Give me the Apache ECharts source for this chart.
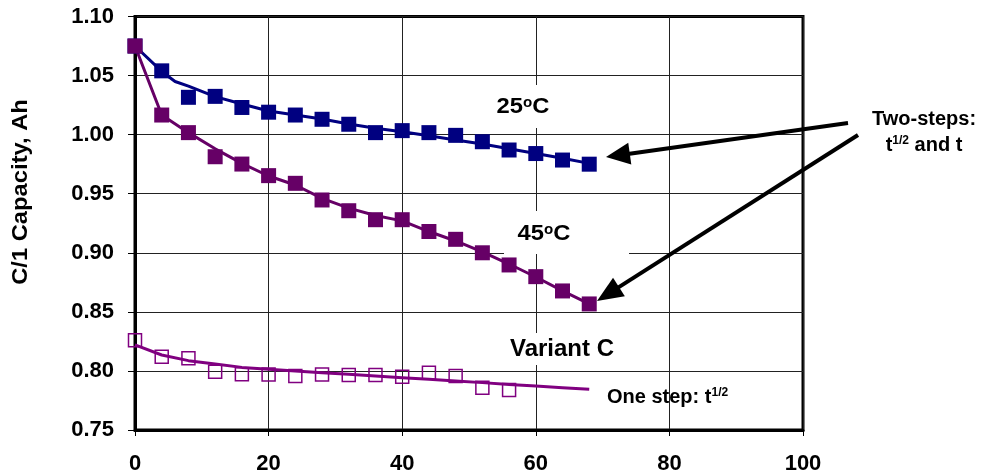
<!DOCTYPE html>
<html>
<head>
<meta charset="utf-8">
<script src="https://cdn.jsdelivr.net/npm/echarts@6/dist/echarts.min.js"></script>
<style>
html,body{margin:0;padding:0;background:#fff;}
#chart{width:982px;height:476px;}
</style>
</head>
<body>
<div id="chart"></div>
<script>
// ---- data ----
const xTicks = [0, 20, 40, 60, 80, 100];
const yTicks = [0.75, 0.80, 0.85, 0.90, 0.95, 1.00, 1.05, 1.10];

const measX = [0, 4, 8, 12, 16, 20, 24, 28, 32, 36, 40, 44, 48, 52, 56, 60, 64, 68];
const meas25 = [1.075, 1.054, 1.0316, 1.0324, 1.023, 1.019, 1.0166, 1.013, 1.0088, 1.0017, 1.0034, 1.0017, 0.9994, 0.994, 0.987, 0.984, 0.9785, 0.975];
const meas45 = [1.075, 1.0166, 1.0017, 0.9813, 0.9751, 0.9653, 0.9588, 0.9447, 0.9356, 0.928, 0.928, 0.918, 0.9114, 0.900, 0.8897, 0.8798, 0.8677, 0.8567];

const measXC = [0, 4, 8, 12, 16, 20, 24, 28, 32, 36, 40, 44, 48, 52, 56];
const measC = [0.826, 0.812, 0.8107, 0.7994, 0.7971, 0.797, 0.7957, 0.797, 0.7966, 0.7966, 0.795, 0.7985, 0.7957, 0.7858, 0.7839];

const fitX25 = [0, 4, 6, 8, 12, 16, 20, 24, 28, 32, 36, 40, 44, 48, 52, 56, 60, 64, 68];
const fit25 = [1.075, 1.0535, 1.045, 1.041, 1.0322, 1.0259, 1.020, 1.0166, 1.0133, 1.009, 1.0054, 1.0025, 0.999, 0.9955, 0.992, 0.988, 0.984, 0.980, 0.9757];

const fitX45 = [0, 4, 8, 12, 16, 20, 24, 28, 32, 36, 40, 44, 48, 52, 56, 60, 64, 68];
const fit45 = [1.075, 1.0166, 1.0017, 0.988, 0.9757, 0.965, 0.9574, 0.946, 0.9378, 0.9316, 0.927, 0.918, 0.910, 0.9007, 0.8905, 0.8795, 0.8677, 0.8567];

const fitXC = [0, 4, 8, 12, 16, 20, 24, 28, 32, 36, 40, 44, 48, 52, 56, 60, 64, 68];
const fitC = [0.822, 0.8135, 0.8087, 0.8059, 0.803, 0.8014, 0.7999, 0.7985, 0.7971, 0.7957, 0.7943, 0.7929, 0.7915, 0.7901, 0.7886, 0.7872, 0.7858, 0.7844];

const yAxisTitle = 'C/1 Capacity, Ah';

// ---- chart ----
const FONT = '"Liberation Sans", Arial, sans-serif';
const pairs = (xs, ys) => xs.map((x, i) => [x, ys[i]]);
const chart = echarts.init(document.getElementById('chart'), null, {renderer: 'canvas'});

const NAVY = '#000080', PLUM = '#660066', PURPLE = '#800080';

function arrow(tail, tip, L, W) {
  const dx = tip[0] - tail[0], dy = tip[1] - tail[1];
  const len = Math.hypot(dx, dy), ux = dx / len, uy = dy / len;
  const bx = tip[0] - ux * L, by = tip[1] - uy * L;
  const px = -uy, py = ux;
  return [
    {type: 'polyline', z: 6, shape: {points: [tail, [bx + ux * 2, by + uy * 2]]}, style: {stroke: '#000', lineWidth: 4, fill: null}},
    {type: 'polygon', z: 6, shape: {points: [tip, [bx + px * W, by + py * W], [bx - px * W, by - py * W]]}, style: {fill: '#000'}}
  ];
}

const bold = (size) => ({fontFamily: FONT, fontWeight: 'bold', fontSize: size, fill: '#000'});

const graphics = [
  // white label boxes
  {type: 'rect', z: 1, shape: {x: 483, y: 85, width: 125, height: 43}, style: {fill: '#fff'}},
  {type: 'rect', z: 1, shape: {x: 504, y: 211, width: 125, height: 43}, style: {fill: '#fff'}},
  {type: 'rect', z: 1, shape: {x: 500, y: 333, width: 124, height: 32}, style: {fill: '#fff'}},
  // y axis title
  {type: 'text', z: 6, x: 21, y: 192, rotation: Math.PI / 2, scaleX: 1.08,
   style: Object.assign(bold(22), {text: yAxisTitle, align: 'center', verticalAlign: 'middle'})},
  // series labels
  {type: 'text', z: 6, x: 523, y: 107, scaleX: 1.08,
   style: {text: '{b|25}{s|o}{b|C}', align: 'center', verticalAlign: 'middle', fill: '#000',
     rich: {b: Object.assign(bold(22), {lineHeight: 22}), s: Object.assign(bold(14), {lineHeight: 14, verticalAlign: 'top'})}}},
  {type: 'text', z: 6, x: 544, y: 234, scaleX: 1.08,
   style: {text: '{b|45}{s|o}{b|C}', align: 'center', verticalAlign: 'middle', fill: '#000',
     rich: {b: Object.assign(bold(22), {lineHeight: 22}), s: Object.assign(bold(14), {lineHeight: 14, verticalAlign: 'top'})}}},
  {type: 'text', z: 6, x: 562, y: 349,
   style: Object.assign(bold(24), {text: 'Variant C', align: 'center', verticalAlign: 'middle'})},
  {type: 'text', z: 6, x: 607, y: 397,
   style: {text: '{b|One step: t}{s|1/2}', align: 'left', verticalAlign: 'middle', fill: '#000',
     rich: {b: Object.assign(bold(20), {lineHeight: 20}), s: Object.assign(bold(12), {lineHeight: 12, verticalAlign: 'top'})}}},
  {type: 'text', z: 6, x: 924, y: 119,
   style: Object.assign(bold(20), {text: 'Two-steps:', align: 'center', verticalAlign: 'middle'})},
  {type: 'text', z: 6, x: 924, y: 145,
   style: {text: '{b|t}{s|1/2}{b| and t}', align: 'center', verticalAlign: 'middle', fill: '#000',
     rich: {b: Object.assign(bold(20), {lineHeight: 20}), s: Object.assign(bold(12), {lineHeight: 12, verticalAlign: 'top'})}}}
].concat(arrow([848, 123], [606, 157], 24, 11), arrow([858, 135], [597, 301], 26, 11));

const option = {
  backgroundColor: '#fff',
  animation: false,
  grid: {left: 135, top: 16.5, width: 668, height: 413.5, show: true, borderColor: '#000', borderWidth: 3, outerBoundsMode: 'none', containLabel: false},
  xAxis: {
    type: 'value', min: xTicks[0], max: xTicks[xTicks.length - 1], interval: 20,
    axisLine: {show: true, lineStyle: {color: '#000', width: 3}},
    axisTick: {show: true, length: 6, lineStyle: {color: '#000', width: 1}},
    splitLine: {show: true, lineStyle: {color: '#222', width: 1}},
    axisLabel: {fontFamily: FONT, fontWeight: 'bold', fontSize: 22, color: '#000', margin: 23,
      formatter: v => xTicks.includes(v) ? String(v) : ''}
  },
  yAxis: {
    type: 'value', min: yTicks[0], max: yTicks[yTicks.length - 1], interval: 0.05,
    axisLine: {show: true, lineStyle: {color: '#000', width: 3}},
    axisTick: {show: true, length: 7, lineStyle: {color: '#000', width: 1}},
    splitLine: {show: true, lineStyle: {color: '#222', width: 1}},
    axisLabel: {fontFamily: FONT, fontWeight: 'bold', fontSize: 22, color: '#000', margin: 21,
      formatter: v => v.toFixed(2)}
  },
  series: [
    {type: 'line', data: pairs(fitX25, fit25), showSymbol: false, symbol: 'none', lineStyle: {color: NAVY, width: 3}, z: 3},
    {type: 'line', data: pairs(fitX45, fit45), showSymbol: false, symbol: 'none', lineStyle: {color: PLUM, width: 3}, z: 3},
    {type: 'line', data: pairs(fitXC, fitC), showSymbol: false, symbol: 'none', lineStyle: {color: PURPLE, width: 3}, z: 3},
    {type: 'scatter', data: pairs(measX, meas25), symbol: 'rect', symbolSize: 15, itemStyle: {color: NAVY, opacity: 1}, z: 4},
    {type: 'scatter', data: pairs(measX, meas45), symbol: 'rect', symbolSize: 15, itemStyle: {color: PLUM, opacity: 1}, z: 4},
    {type: 'scatter', data: pairs(measXC, measC), symbol: 'rect', symbolSize: 13, itemStyle: {color: 'rgba(255,255,255,0)', borderColor: PURPLE, borderWidth: 1.5, opacity: 1}, z: 4}
  ],
  graphic: graphics
};
chart.setOption(option);
</script>
</body>
</html>
